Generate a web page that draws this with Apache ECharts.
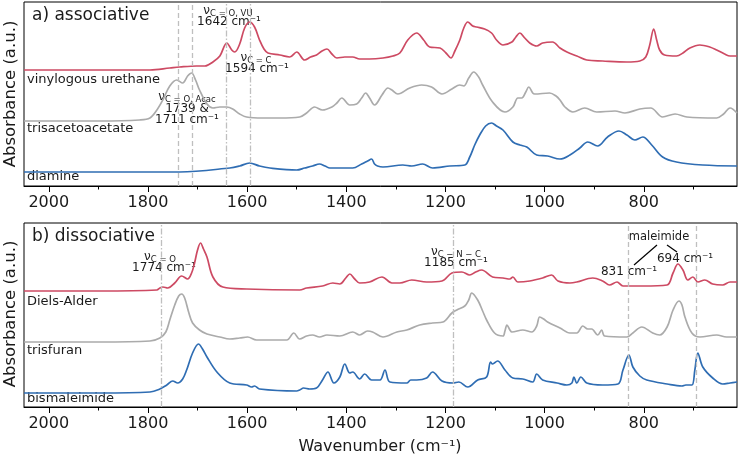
<!DOCTYPE html>
<html><head><meta charset="utf-8">
<script src="https://cdn.jsdelivr.net/npm/echarts@6/dist/echarts.min.js"></script>
<style>html,body{margin:0;padding:0;background:#fff}#c{width:741px;height:461px}</style>
</head><body><div id="c"></div>
<script>
// ---------- data (wavenumber in cm^-1, absorbance in arbitrary offset units) ----------
const majorTicks = [2000, 1800, 1600, 1400, 1200, 1000, 800];
const minorTicks = [1900, 1700, 1500, 1300, 1100, 900, 700];

// a) associative
const wnVU = [2050,1897,1796,1756,1736,1702,1685,1669,1655,1641,1631,1625,1615,1605,1595,1585,1575,1566,1558,1534,1514,1500,1484,1472,1460,1449,1439,1429,1419,1403,1387,1373,1353,1326,1306,1292,1276,1258,1244,1232,1211,1199,1189,1181,1171,1163,1155,1145,1137,1121,1107,1097,1084,1066,1058,1050,1040,1030,1016,1004,984,969,955,935,915,883,834,808,796,788,780,774,768,758,734,721,707,687,667,653,637,626,612];
const abVU = [116,116,116,118,119,120,120,124,130,143,136,134,142,158,164,159,146,137,133,131,129,134,126,129,131,135,137,132,128,129,129,127,127,128,130,133,146,153,146,139,138,133,128,135,146,158,164,160,159,157,153,146,141,144,149,153,148,143,140,143,144,138,134,130,126,125,124,125,129,141,157,146,136,131,130,133,138,141,139,136,132,130,130];

const wnTAA = [2050,1897,1817,1796,1782,1770,1756,1742,1730,1720,1712,1704,1696,1681,1669,1655,1641,1629,1615,1601,1569,1534,1494,1480,1464,1448,1429,1419,1409,1393,1379,1369,1361,1353,1343,1328,1316,1308,1296,1272,1248,1228,1207,1187,1171,1163,1153,1143,1133,1125,1105,1080,1064,1054,1046,1038,1032,1024,1020,990,977,969,959,943,919,895,858,838,808,786,762,737,713,653,639,626,612];
const abTAA = [65,65,66,68,76,86,100,106,103,110,113,106,96,82,78,79,79,77,72,69,68,68,69,73,79,76,79,83,88,81,82,88,93,88,81,91,98,96,92,98,101,99,92,97,101,100,108,114,109,101,84,74,79,88,88,94,99,93,92,93,90,86,79,74,78,74,75,73,77,78,69,72,69,68,72,78,73];

const wnDA = [2050,1897,1736,1635,1615,1595,1575,1554,1500,1484,1468,1454,1443,1433,1387,1369,1357,1349,1343,1337,1326,1286,1268,1246,1226,1191,1161,1151,1141,1131,1119,1107,1097,1084,1064,1050,1036,1016,994,969,949,929,913,893,873,850,834,818,802,784,762,734,681,612];
const abDA = [14,14,14,18,20,23,20,18,16,18,20,22,20,18,18,22,25,27,22,20,19,21,20,22,18,20,21,29,41,51,60,63,60,56,44,41,39,31,30,27,31,38,44,40,49,55,51,46,49,41,29,24,21,20];

// b) dissociative
const wnDAd = [2050,1897,1782,1776,1770,1760,1746,1732,1720,1712,1706,1700,1694,1688,1681,1669,1649,1601,1494,1480,1448,1427,1413,1401,1393,1383,1373,1353,1328,1308,1292,1268,1238,1207,1187,1167,1151,1139,1127,1105,1084,1070,1064,1054,1030,1004,986,973,949,935,903,883,869,854,842,802,753,741,731,721,711,701,691,677,661,641,626,612];
const abDAd = [116,116,117,119,120,119,124,131,128,134,144,157,164,158,150,130,120,118,117,119,121,124,123,129,133,128,124,125,130,124,124,127,125,126,134,135,132,135,137,130,129,128,130,125,126,129,132,126,124,125,129,126,122,125,121,121,122,134,143,137,127,130,125,127,123,122,125,125];

const wnTF = [2050,1897,1796,1776,1764,1756,1746,1738,1732,1726,1718,1710,1696,1681,1655,1635,1615,1599,1581,1520,1506,1494,1480,1468,1454,1439,1413,1387,1373,1357,1347,1326,1298,1278,1252,1226,1205,1187,1177,1161,1153,1147,1135,1125,1117,1101,1084,1080,1076,1070,1066,1044,1026,1016,1010,1002,994,969,949,935,923,913,905,893,885,879,834,822,804,782,768,753,741,729,723,717,703,687,653,633,612];
const abTF = [65,65,66,69,75,87,102,111,113,109,95,84,77,73,70,68,69,70,67,67,74,68,71,72,70,72,71,75,72,76,75,70,75,77,82,84,85,94,97,101,107,114,107,96,87,74,71,76,82,77,75,77,75,81,90,88,85,79,74,74,81,78,78,72,77,71,70,74,80,74,72,80,97,106,102,90,74,70,72,70,70];

const wnBM = [2050,1897,1796,1776,1762,1750,1740,1730,1722,1710,1698,1690,1681,1661,1635,1601,1591,1585,1575,1500,1494,1486,1474,1460,1448,1437,1425,1413,1403,1393,1387,1373,1363,1349,1332,1322,1312,1278,1270,1258,1238,1226,1207,1185,1173,1155,1135,1117,1109,1105,1095,1080,1064,1044,1024,1016,1004,975,955,945,941,935,927,915,883,852,842,830,822,808,794,753,723,715,703,697,691,681,661,641,626,612];
const abBM = [14,14,15,18,22,26,24,28,37,54,63,58,50,35,24,22,20,21,18,16,17,19,18,19,27,35,24,30,43,34,35,28,33,27,27,37,25,24,27,27,29,35,26,24,25,20,27,30,45,43,46,37,29,28,25,33,27,24,22,24,30,24,30,24,22,23,37,52,40,31,27,23,21,22,22,37,54,40,29,23,24,25];

// reference lines (cm^-1)
const refA = [{w:1739,t:'dash'},{w:1711,t:'dash'},{w:1642,t:'dashdot'},{w:1594,t:'dashdot'}];
const refB = [{w:1774,t:'dashdot'},{w:1185,t:'dashdot'},{w:831,t:'dash'},{w:694,t:'dash'}];

// ---------- chart ----------
const FONT = "'DejaVu Sans', sans-serif";
const RED = '#cd4a63', GRAY = '#ababab', BLUE = '#2f6db3', TXT = '#1a1a1a';
const pairs = (w, a) => w.map((x, i) => [x, a[i]]);
const grids = [
  {left: 24, top: 2, width: 713, height: 184, show: true, borderColor: '#000', borderWidth: 1, backgroundColor: 'transparent'},
  {left: 24, top: 223, width: 713, height: 184, show: true, borderColor: '#000', borderWidth: 1, backgroundColor: 'transparent'}
];
function mainX(g){
  return {type:'value', gridIndex:g, inverse:true, min:612, max:2050, position:'bottom',
    axisLine:{show:true, lineStyle:{color:'#000', width:1}},
    axisTick:{show:true, length:6, lineStyle:{color:'#000', width:1}, customValues: majorTicks},
    axisLabel:{show:true, customValues: majorTicks, margin:9, fontSize:16, fontFamily:FONT, color:TXT, formatter: v => String(v)},
    splitLine:{show:false}};
}
function minorX(g){
  return {type:'value', gridIndex:g, inverse:true, min:612, max:2050, position:'bottom',
    axisLine:{show:false},
    axisTick:{show:true, length:3.5, lineStyle:{color:'#000', width:1}, customValues: minorTicks},
    axisLabel:{show:false}, splitLine:{show:false}};
}
function yAx(g){ return {type:'value', gridIndex:g, min:0, max:184, show:false}; }
function refLines(list){
  return {silent:true, symbol:['none','none'], label:{show:false},
    data: list.map(r => ({xAxis:r.w, lineStyle:{color:'#bfbfbf', width:1.3, type: r.t==='dash' ? [5,3] : [6,2,1.5,2]}}))};
}
function spec(name, w, a, color, g, ml){
  const s = {name, type:'line', xAxisIndex:g, yAxisIndex:g, data:pairs(w,a), showSymbol:false,
    smooth:0.35, lineStyle:{color, width:1.7}, itemStyle:{color}, z:3};
  if (ml) s.markLine = ml;
  return s;
}
const sub = (nu, s, x, y) => ({type:'text', x, y, style:{text:'{n|ν}{s|' + s + '}', align:'center', verticalAlign:'middle',
  rich:{n:{fontSize:12, fontFamily:FONT, fill:TXT, lineHeight:14}, s:{fontSize:8.5, fontFamily:FONT, fill:TXT, lineHeight:14, verticalAlign:'bottom', padding:[6,0,0,0]}}}});
const txt = (t, x, y, size, align) => ({type:'text', x, y, style:{text:t, font: size + 'px ' + FONT, fill:TXT, align: align || 'center', verticalAlign:'middle'}});

const chart = echarts.init(document.getElementById('c'), null, {renderer:'canvas'});
chart.setOption({
  animation:false,
  backgroundColor:'#fff',
  grid: grids,
  xAxis: [mainX(0), mainX(1), minorX(0), minorX(1)],
  yAxis: [yAx(0), yAx(1)],
  series: [
    spec('trisacetoacetate', wnTAA, abTAA, GRAY, 0, refLines(refA)),
    spec('diamine', wnDA, abDA, BLUE, 0),
    spec('vinylogous urethane', wnVU, abVU, RED, 0),
    spec('trisfuran', wnTF, abTF, GRAY, 1, refLines(refB)),
    spec('bismaleimide', wnBM, abBM, BLUE, 1),
    spec('Diels-Alder', wnDAd, abDAd, RED, 1)
  ],
  graphic: [
    txt('a) associative', 32, 16, 17, 'left'),
    txt('b) dissociative', 32, 237, 17, 'left'),
    txt('vinylogous urethane', 27, 80, 13, 'left'),
    txt('trisacetoacetate', 27, 129, 13, 'left'),
    txt('diamine', 27, 177, 13, 'left'),
    txt('Diels-Alder', 27, 302, 13, 'left'),
    txt('trisfuran', 27, 351, 13, 'left'),
    txt('bismaleimide', 27, 399, 13, 'left'),
    sub('ν', 'C = O, VU', 228, 11),
    txt('1642 cm⁻¹', 229, 22, 12),
    sub('ν', 'C = C', 256, 58),
    txt('1594 cm⁻¹', 257, 69, 12),
    sub('ν', 'C = O, Acac', 187, 97),
    txt('1739 &', 187, 109, 12),
    txt('1711 cm⁻¹', 187, 120, 12),
    sub('ν', 'C = O', 160, 257),
    txt('1774 cm⁻¹', 164, 268, 12),
    sub('ν', 'C − N − C', 456, 252),
    txt('1185 cm⁻¹', 456, 263, 12),
    txt('maleimide', 659, 237, 11.5),
    txt('831 cm⁻¹', 629, 272, 12),
    txt('694 cm⁻¹', 685, 259, 12),
    {type:'line', shape:{x1:657, y1:245, x2:634, y2:265}, style:{stroke:'#000', lineWidth:1.2}},
    {type:'line', shape:{x1:667, y1:245, x2:677, y2:252}, style:{stroke:'#000', lineWidth:1.2}},
    {type:'text', x:11, y:94, rotation:Math.PI/2, style:{text:'Absorbance (a.u.)', font:'16.5px ' + FONT, fill:TXT, align:'center', verticalAlign:'middle'}},
    {type:'text', x:11, y:314, rotation:Math.PI/2, style:{text:'Absorbance (a.u.)', font:'16.5px ' + FONT, fill:TXT, align:'center', verticalAlign:'middle'}},
    txt('Wavenumber (cm⁻¹)', 380, 447, 16)
  ]
});
</script></body></html>
